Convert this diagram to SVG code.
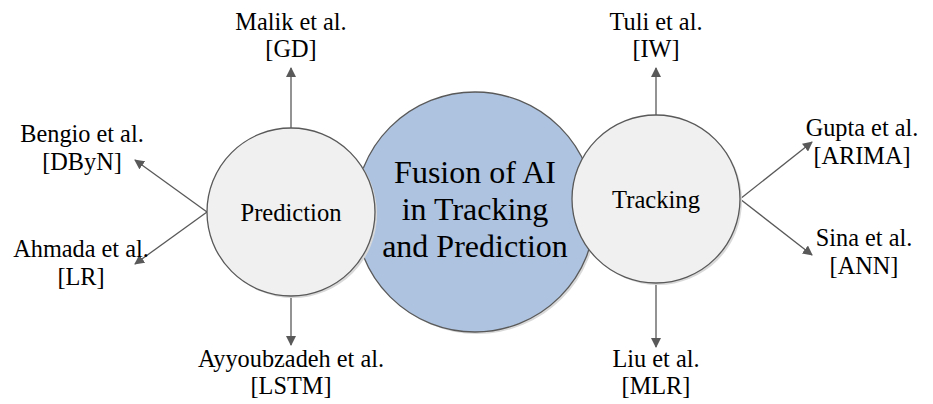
<svg xmlns="http://www.w3.org/2000/svg" width="933" height="404" viewBox="0 0 933 404" font-family="'Liberation Serif', 'Times New Roman', serif">
  <defs>
    <marker id="arrow" viewBox="0 0 10 10" refX="9" refY="5" markerWidth="10" markerHeight="10" markerUnits="userSpaceOnUse" orient="auto">
      <path d="M0,0 L10,5 L0,10 Z" fill="#595959"/>
    </marker>
  </defs>
  <style>
    .lbl { font-family: "Liberation Serif", "Times New Roman", serif; font-size: 24.3px; fill: #000; text-anchor: middle; }
    .hub { font-family: "Liberation Serif", "Times New Roman", serif; font-size: 24.6px; fill: #000; text-anchor: middle; }
    .core { font-family: "Liberation Serif", "Times New Roman", serif; font-size: 32px; fill: #000; text-anchor: middle; }
    .edge { stroke: #595959; stroke-width: 1.3; fill: none; marker-end: url(#arrow); }
    .shadow { fill: #d9d9d9; }
    .ring { stroke: #595959; stroke-width: 1.3; }
    .grey { fill: #f0f0f0; }
    .blue { fill: #adc3e0; }
  </style>
  <rect width="933" height="404" fill="#ffffff"/>

  <!-- connectors -->
  <g id="connectors">
    <line class="edge" x1="291" y1="128" x2="291" y2="68"/>
    <line class="edge" x1="291" y1="296" x2="291" y2="345"/>
    <line class="edge" x1="207" y1="212" x2="135" y2="160"/>
    <line class="edge" x1="207" y1="212" x2="135" y2="264"/>
    <line class="edge" x1="656" y1="116" x2="656" y2="68"/>
    <line class="edge" x1="656" y1="282" x2="656" y2="347"/>
    <line class="edge" x1="740" y1="199" x2="812" y2="142"/>
    <line class="edge" x1="740" y1="199" x2="812" y2="255"/>
  </g>

  <!-- central topic -->
  <g id="fusion">
    <circle class="shadow" cx="477" cy="214" r="120"/>
    <circle class="ring blue" cx="475" cy="212" r="120"/>
    <text class="core" x="475" y="183">Fusion of AI</text>
    <text class="core" x="475" y="220">in Tracking</text>
    <text class="core" x="475" y="257">and Prediction</text>
  </g>

  <g id="prediction">
    <circle class="shadow" cx="293" cy="214" r="84"/>
    <circle class="ring grey" cx="291" cy="212" r="84"/>
    <text class="hub" x="291" y="221">Prediction</text>
  </g>

  <g id="tracking">
    <circle class="shadow" cx="658" cy="201" r="84"/>
    <circle class="ring grey" cx="656" cy="199" r="84"/>
    <text class="hub" x="656" y="208">Tracking</text>
  </g>

  <!-- references -->
  <g id="malik">
    <text class="lbl" x="291" y="30">Malik et al.</text>
    <text class="lbl" x="291" y="57">[GD]</text>
  </g>
  <g id="bengio">
    <text class="lbl" x="82" y="142">Bengio et al.</text>
    <text class="lbl" x="82" y="170">[DByN]</text>
  </g>
  <g id="ahmada">
    <text class="lbl" x="81" y="257">Ahmada et al.</text>
    <text class="lbl" x="81" y="285">[LR]</text>
  </g>
  <g id="ayyoubzadeh">
    <text class="lbl" x="291" y="367">Ayyoubzadeh et al.</text>
    <text class="lbl" x="291" y="394">[LSTM]</text>
  </g>
  <g id="tuli">
    <text class="lbl" x="656" y="30">Tuli et al.</text>
    <text class="lbl" x="656" y="57">[IW]</text>
  </g>
  <g id="liu">
    <text class="lbl" x="656" y="367">Liu et al.</text>
    <text class="lbl" x="656" y="394">[MLR]</text>
  </g>
  <g id="gupta">
    <text class="lbl" x="862" y="136">Gupta et al.</text>
    <text class="lbl" x="862" y="164">[ARIMA]</text>
  </g>
  <g id="sina">
    <text class="lbl" x="864" y="246">Sina et al.</text>
    <text class="lbl" x="864" y="274">[ANN]</text>
  </g>
</svg>
